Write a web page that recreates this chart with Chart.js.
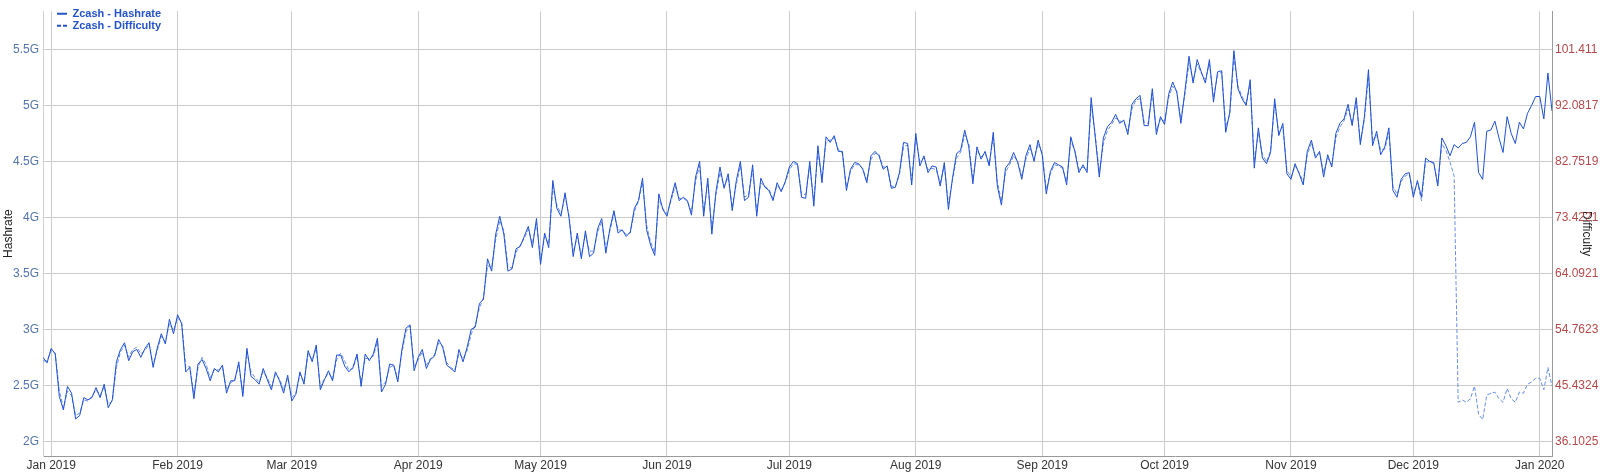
<!DOCTYPE html>
<html>
<head>
<meta charset="utf-8">
<title>Zcash - Hashrate / Difficulty</title>
<script src="https://cdn.jsdelivr.net/npm/chart.js@4.4.1/dist/chart.umd.min.js"></script>
<style>
    html, body { margin: 0; padding: 0; background: #ffffff; }
    #wrap { width: 1600px; height: 472px; }
</style>
</head>
<body>
<div id="wrap"><canvas id="zcash_chart" width="1600" height="472"></canvas></div>
<script>
const DAY = 864e5;
const startDay = Date.UTC(2018, 11, 30);

// daily hashrate, in G (Dec 30 2018 .. Jan 4 2020)
const hashrate = [
    2.75, 2.70, 2.83, 2.78, 2.40, 2.28, 2.49, 2.43, 2.20, 2.23,
    2.39, 2.37, 2.39, 2.48, 2.39, 2.51, 2.30, 2.37, 2.71, 2.82,
    2.88, 2.72, 2.80, 2.82, 2.75, 2.83, 2.88, 2.66, 2.83, 2.96,
    2.87, 3.09, 2.96, 3.13, 3.05, 2.62, 2.66, 2.38, 2.69, 2.73,
    2.65, 2.54, 2.65, 2.62, 2.68, 2.43, 2.54, 2.54, 2.71, 2.40,
    2.83, 2.58, 2.55, 2.51, 2.65, 2.55, 2.46, 2.62, 2.54, 2.43,
    2.59, 2.36, 2.42, 2.62, 2.51, 2.81, 2.71, 2.86, 2.46, 2.55,
    2.63, 2.54, 2.77, 2.77, 2.67, 2.62, 2.66, 2.78, 2.49, 2.78,
    2.72, 2.78, 2.92, 2.44, 2.51, 2.69, 2.68, 2.53, 2.82, 3.01,
    3.04, 2.63, 2.75, 2.82, 2.65, 2.73, 2.76, 2.91, 2.84, 2.68,
    2.65, 2.62, 2.82, 2.71, 2.84, 3.00, 3.02, 3.23, 3.27, 3.63,
    3.52, 3.85, 4.01, 3.85, 3.52, 3.54, 3.72, 3.74, 3.83, 3.92,
    3.73, 3.99, 3.58, 3.86, 3.73, 4.33, 4.08, 4.01, 4.22, 3.99,
    3.65, 3.86, 3.63, 3.88, 3.65, 3.68, 3.90, 3.99, 3.68, 3.90,
    4.06, 3.86, 3.89, 3.83, 3.87, 4.08, 4.15, 4.35, 3.89, 3.75,
    3.66, 4.21, 4.07, 4.01, 4.17, 4.31, 4.15, 4.18, 4.15, 4.02,
    4.36, 4.50, 4.01, 4.35, 3.85, 4.23, 4.45, 4.26, 4.39, 4.06,
    4.33, 4.50, 4.15, 4.18, 4.47, 4.01, 4.35, 4.27, 4.24, 4.15,
    4.31, 4.23, 4.32, 4.45, 4.50, 4.48, 4.18, 4.17, 4.50, 4.10,
    4.64, 4.31, 4.72, 4.67, 4.73, 4.59, 4.59, 4.24, 4.43, 4.49,
    4.48, 4.43, 4.31, 4.55, 4.59, 4.55, 4.43, 4.46, 4.26, 4.27,
    4.40, 4.67, 4.66, 4.29, 4.75, 4.46, 4.55, 4.40, 4.46, 4.45,
    4.28, 4.49, 4.07, 4.35, 4.57, 4.60, 4.78, 4.63, 4.30, 4.63,
    4.52, 4.59, 4.46, 4.76, 4.28, 4.11, 4.44, 4.49, 4.58, 4.49,
    4.34, 4.55, 4.65, 4.50, 4.69, 4.56, 4.21, 4.41, 4.49, 4.47,
    4.45, 4.29, 4.72, 4.59, 4.40, 4.47, 4.40, 5.07, 4.72, 4.36,
    4.71, 4.81, 4.85, 4.92, 4.84, 4.87, 4.74, 5.01, 5.06, 5.09,
    4.82, 4.82, 5.15, 4.74, 4.90, 4.83, 5.10, 5.21, 5.12, 4.84,
    5.13, 5.44, 5.20, 5.41, 5.30, 5.20, 5.41, 5.03, 5.30, 5.31,
    4.76, 4.94, 5.49, 5.15, 5.06, 5.00, 5.23, 4.44, 4.80, 4.53,
    4.48, 4.58, 5.06, 4.73, 4.84, 4.39, 4.34, 4.48, 4.39, 4.29,
    4.59, 4.69, 4.53, 4.59, 4.36, 4.56, 4.45, 4.75, 4.84, 4.88,
    5.01, 4.82, 5.07, 4.65, 4.90, 5.32, 4.64, 4.77, 4.56, 4.63,
    4.80, 4.24, 4.18, 4.34, 4.39, 4.40, 4.18, 4.33, 4.18, 4.53,
    4.50, 4.49, 4.28, 4.71, 4.64, 4.55, 4.65, 4.62, 4.66, 4.67,
    4.72, 4.85, 4.40, 4.34, 4.77, 4.78, 4.86, 4.71, 4.58, 4.90,
    4.75, 4.66, 4.85, 4.79, 4.93, 5.00, 5.08, 5.08, 4.88, 5.29,
    4.95
];

// daily difficulty (right axis), same days
const difficulty = [
    49.5, 49.5, 51.2, 50.8, 44.5, 41.7, 44.5, 43.7, 40.4, 40.8,
    43.0, 42.8, 43.6, 44.7, 43.7, 45.2, 42.3, 42.8, 48.4, 51.0,
    52.1, 50.1, 51.4, 51.8, 50.7, 51.2, 52.3, 48.9, 51.2, 53.6,
    52.7, 55.7, 54.6, 56.6, 56.1, 48.4, 48.6, 43.9, 48.4, 50.1,
    48.9, 46.7, 48.0, 48.0, 48.4, 44.7, 45.8, 46.4, 48.8, 44.1,
    51.0, 47.7, 46.7, 46.0, 47.7, 46.7, 45.2, 47.3, 46.5, 44.7,
    46.7, 43.4, 44.1, 47.3, 46.0, 50.7, 49.7, 51.6, 45.2, 46.5,
    47.5, 46.5, 49.7, 50.8, 49.4, 48.0, 48.2, 50.3, 46.0, 49.9,
    49.9, 50.3, 52.7, 45.2, 46.0, 48.4, 48.8, 46.5, 50.8, 54.4,
    55.3, 48.6, 49.7, 51.0, 48.8, 49.9, 50.5, 52.5, 52.0, 49.2,
    48.4, 48.0, 50.7, 49.9, 51.2, 54.0, 55.5, 58.3, 60.0, 65.4,
    65.0, 69.7, 72.9, 71.2, 65.2, 65.0, 67.6, 68.8, 69.9, 71.4,
    69.1, 72.5, 66.3, 70.2, 69.0, 78.5, 75.5, 74.0, 77.0, 73.6,
    67.6, 70.2, 67.1, 70.6, 67.8, 67.8, 71.0, 72.7, 68.2, 71.2,
    74.0, 71.4, 71.2, 70.6, 70.8, 74.4, 76.1, 79.2, 72.1, 69.3,
    67.6, 76.4, 74.9, 74.0, 76.2, 78.6, 76.6, 76.6, 76.1, 74.4,
    79.4, 82.0, 74.4, 79.2, 71.6, 77.2, 80.9, 78.6, 80.1, 75.1,
    79.0, 82.0, 76.8, 77.2, 81.4, 74.4, 79.2, 78.6, 78.1, 76.6,
    78.8, 77.9, 79.2, 81.3, 82.4, 82.2, 77.3, 77.2, 82.0, 76.1,
    84.3, 80.0, 86.1, 86.3, 86.7, 84.8, 84.1, 78.5, 81.1, 82.2,
    82.2, 81.6, 79.6, 83.1, 84.1, 83.9, 81.8, 81.8, 78.6, 78.6,
    80.5, 85.2, 85.5, 79.6, 86.7, 82.7, 83.3, 81.4, 81.6, 81.4,
    79.2, 82.0, 75.7, 79.6, 83.3, 84.3, 87.2, 85.7, 79.8, 84.6,
    83.5, 84.1, 82.4, 86.7, 79.4, 76.1, 80.9, 82.2, 83.7, 82.7,
    80.3, 83.1, 84.9, 83.1, 85.7, 84.1, 78.1, 80.7, 82.2, 82.0,
    81.6, 79.4, 86.1, 84.6, 81.4, 81.8, 81.3, 92.3, 87.2, 80.9,
    85.7, 87.9, 88.9, 90.0, 89.5, 89.3, 87.8, 91.5, 93.0, 93.2,
    89.3, 89.1, 94.1, 87.9, 89.8, 89.5, 93.4, 95.3, 94.4, 89.8,
    93.9, 99.2, 96.2, 99.0, 97.5, 96.4, 99.0, 93.4, 97.1, 97.7,
    88.5, 90.6, 100.1, 95.3, 93.6, 92.3, 95.6, 82.7, 87.6, 83.9,
    82.7, 84.6, 92.3, 87.6, 88.5, 81.3, 80.1, 82.0, 80.9, 79.4,
    83.9, 85.7, 83.7, 84.1, 80.9, 83.3, 82.2, 86.7, 88.5, 89.5,
    91.5, 89.1, 92.7, 86.1, 89.7, 96.9, 86.1, 87.2, 84.6, 84.8,
    87.6, 78.6, 77.3, 79.4, 80.3, 80.7, 77.3, 79.2, 76.2, 82.7,
    82.7, 82.4, 79.0, 85.7, 84.6, 82.6, 80.3, 42.6, 43.0, 42.6,
    43.2, 45.3, 40.6, 39.7, 43.8, 44.1, 44.3, 43.2, 42.6, 44.9,
    43.2, 42.6, 44.3, 44.1, 45.6, 46.0, 46.6, 46.6, 44.7, 48.4,
    45.3
];

const monthLabels = ['Jan 2019', 'Feb 2019', 'Mar 2019', 'Apr 2019', 'May 2019', 'Jun 2019',
    'Jul 2019', 'Aug 2019', 'Sep 2019', 'Oct 2019', 'Nov 2019', 'Dec 2019', 'Jan 2020'];
const hashTicks = [2, 2.5, 3, 3.5, 4, 4.5, 5, 5.5];
const hashLabels = ['2G', '2.5G', '3G', '3.5G', '4G', '4.5G', '5G', '5.5G'];
const diffTicks = [36.1025, 45.4324, 54.7623, 64.0921, 73.4221, 82.7519, 92.0817, 101.411];

const monthStarts = monthLabels.map((_, i) => Date.UTC(2019, i, 1));

function toPoints(values) {
    return values.map((v, i) => ({ x: startDay + i * DAY, y: v }));
}

// put the legend inside the plot, top left
const legendInside = {
    id: 'legendInside',
    afterLayout(chart) {
        chart.legend.left = chart.chartArea.left + 13;
        chart.legend.top = chart.chartArea.top - 4;
    }
};

Chart.defaults.font.family = "'Liberation Sans', Arial, sans-serif";
Chart.defaults.font.size = 12;

document.addEventListener("DOMContentLoaded", () => {
    const ctx = document.getElementById('zcash_chart').getContext('2d');
    new Chart(ctx, {
        type: 'line',
        data: {
            datasets: [{
                label: 'Zcash - Hashrate',
                data: toPoints(hashrate),
                yAxisID: 'y',
                borderColor: '#1f50d2',
                borderWidth: 1,
                pointRadius: 0,
                tension: 0,
                fill: false
            }, {
                label: 'Zcash - Difficulty',
                data: toPoints(difficulty),
                yAxisID: 'y1',
                borderColor: '#6890e6',
                borderWidth: 1,
                borderDash: [4, 2],
                pointRadius: 0,
                tension: 0,
                fill: false
            }]
        },
        options: {
            responsive: false,
            animation: false,
            devicePixelRatio: 1,
            layout: { padding: { top: 3, left: 0, right: 0, bottom: 0 } },
            plugins: {
                tooltip: { enabled: false },
                legend: {
                    position: 'chartArea',
                    align: 'start',
                    labels: {
                        color: '#2453c8',
                        font: { size: 11, weight: 'bold' },
                        usePointStyle: true,
                        pointStyle: 'line',
                        pointStyleWidth: 10,
                        padding: 1,
                        generateLabels: chart => Chart.defaults.plugins.legend.labels.generateLabels(chart)
                            .map(item => Object.assign(item, {
                                lineWidth: 2,
                                strokeStyle: '#2453c8',
                                lineDash: item.datasetIndex === 1 ? [4, 2] : []
                            }))
                    }
                }
            },
            scales: {
                x: {
                    type: 'linear',
                    min: startDay,
                    max: startDay + (hashrate.length - 1) * DAY,
                    afterBuildTicks: axis => { axis.ticks = monthStarts.map(v => ({ value: v })); },
                    afterFit: axis => { axis.height = 16; },
                    grid: { color: '#cccccc', drawTicks: false },
                    border: { color: '#9a9a9a' },
                    ticks: {
                        autoSkip: false,
                        maxRotation: 0,
                        padding: 2,
                        color: '#333333',
                        callback: (v, i) => monthLabels[i]
                    }
                },
                y: {
                    position: 'left',
                    min: 1.8684,
                    max: 5.8421,
                    afterBuildTicks: axis => { axis.ticks = hashTicks.map(v => ({ value: v })); },
                    afterFit: axis => { axis.width = 43; },
                    grid: { color: '#cccccc', drawTicks: false },
                    border: { color: '#d0d0d0' },
                    ticks: {
                        padding: 4,
                        color: '#5273aa',
                        callback: (v, i) => hashLabels[i]
                    },
                    title: {
                        display: true,
                        text: 'Hashrate',
                        color: '#222222',
                        padding: { top: 1, bottom: 0 }
                    }
                },
                y1: {
                    position: 'right',
                    min: 33.647,
                    max: 107.795,
                    afterBuildTicks: axis => { axis.ticks = diffTicks.map(v => ({ value: v })); },
                    afterFit: axis => { axis.width = 48; },
                    grid: { drawOnChartArea: false, drawTicks: false },
                    border: { color: '#9a9a9a' },
                    ticks: {
                        padding: 3,
                        color: '#b34a4a',
                        callback: v => String(v)
                    },
                    title: {
                        display: true,
                        text: 'Difficulty',
                        color: '#222222',
                        padding: { top: 6, bottom: 0 }
                    }
                }
            }
        },
        plugins: [legendInside]
    });
});
</script>
</body>
</html>
